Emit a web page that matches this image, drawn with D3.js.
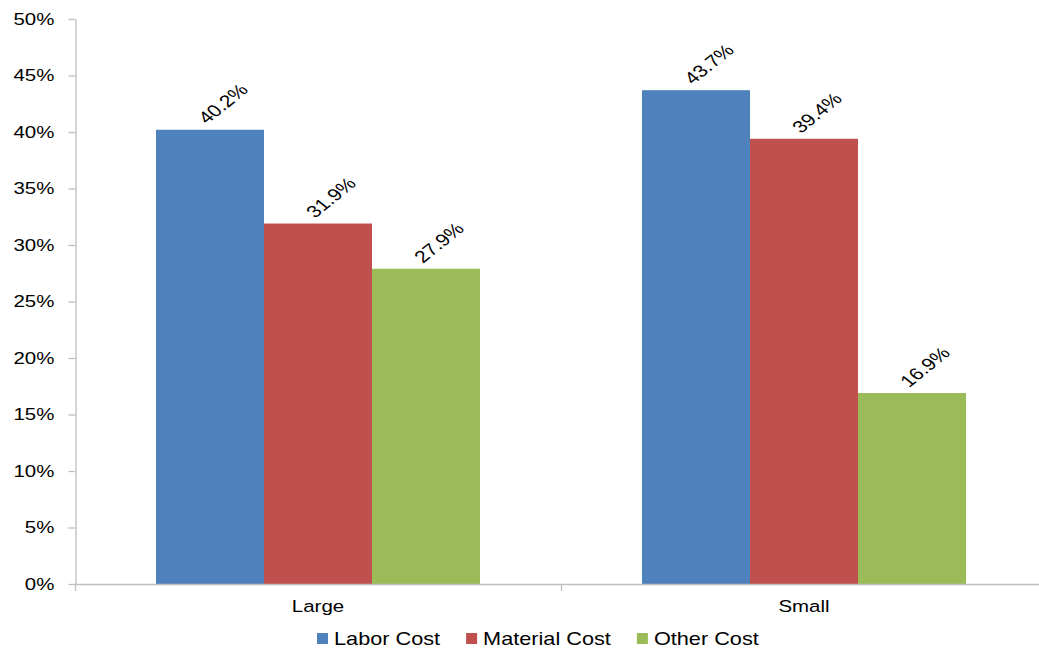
<!DOCTYPE html>
<html>
<head>
<meta charset="utf-8">
<script src="https://cdn.jsdelivr.net/npm/d3@7"></script>
<style>
  html, body { margin: 0; padding: 0; background: #fff; }
  svg { display: block; }
  text { font-family: "Liberation Sans", Arial, Helvetica, sans-serif; fill: #000; }
</style>
</head>
<body>
<svg id="chart" width="1039" height="650"></svg>
<script>
// Cost share by company size
const categories = ["Large", "Small"];
const seriesNames = ["Labor Cost", "Material Cost", "Other Cost"];
const laborCost = [0.402, 0.437];
const materialCost = [0.319, 0.394];
const otherCost = [0.279, 0.169];
const yTicks = [0, 0.05, 0.10, 0.15, 0.20, 0.25, 0.30, 0.35, 0.40, 0.45, 0.50];
const colors = ["#4F81BD", "#C0504D", "#9BBB59"];

const seriesValues = [laborCost, materialCost, otherCost];
const stretch = 1.24; // text is drawn slightly wide

const svg = d3.select("#chart");
const plot = { left: 75, right: 1047, top: 19, bottom: 584 };

const x = d3.scaleBand().domain(categories).range([plot.left, plot.right]).paddingInner(0).paddingOuter(0);
const xs = d3.scaleBand().domain(seriesNames).range([0, x.bandwidth()]).paddingInner(0).paddingOuter(0.75);
const y = d3.scaleLinear().domain([0, 0.5]).range([plot.bottom, plot.top]);

const axisColor = "#bfbfbf";

// Bars
const rows = categories.map((c, i) => seriesNames.map((s, j) => ({ cat: c, series: s, value: seriesValues[j][i], color: colors[j] })));
const groups = svg.selectAll("g.cat").data(rows).join("g")
  .attr("class", "cat")
  .attr("transform", (d, i) => `translate(${x(categories[i])},0)`);

groups.selectAll("rect").data(d => d).join("rect")
  .attr("x", d => xs(d.series))
  .attr("width", xs.bandwidth())
  .attr("y", d => y(d.value))
  .attr("height", d => y(0) - y(d.value))
  .attr("fill", d => d.color);

// Value labels, rotated
const fmt = d3.format(".1%");
groups.selectAll("text.val").data(d => d).join("text")
  .attr("class", "val")
  .attr("transform", d => `translate(${xs(d.series) + xs.bandwidth() / 2 + 13},${y(d.value) - 26}) scale(${stretch},1) rotate(-45)`)
  .attr("text-anchor", "middle")
  .attr("dominant-baseline", "central")
  .style("font-size", "17px")
  .text(d => fmt(d.value));

// Y axis
const yAxis = svg.append("g")
  .attr("transform", `translate(${plot.left + 0.5},0)`)
  .call(d3.axisLeft(y).tickValues(yTicks).tickFormat(d3.format(".0%")).tickSize(7).tickSizeOuter(0).tickPadding(10));
yAxis.select(".domain").attr("stroke", axisColor).attr("stroke-width", 1.3);
yAxis.selectAll(".tick line").attr("stroke", axisColor).attr("stroke-width", 1.3);
yAxis.selectAll(".tick text")
  .attr("fill", "#000")
  .style("font-size", "16.5px")
  .style("font-family", '"Liberation Sans", Arial, sans-serif')
  .attr("transform", `scale(${stretch},1)`);

// X axis line and boundary ticks
const boundaries = categories.map(c => x(c)).concat([x.range()[1]]);
svg.append("line")
  .attr("x1", plot.left).attr("x2", plot.right)
  .attr("y1", y(0) + 0.5).attr("y2", y(0) + 0.5)
  .attr("stroke", axisColor).attr("stroke-width", 1.3);
svg.selectAll("line.xtick").data(boundaries).join("line")
  .attr("class", "xtick")
  .attr("x1", d => d + 0.5).attr("x2", d => d + 0.5)
  .attr("y1", y(0)).attr("y2", y(0) + 7)
  .attr("stroke", axisColor).attr("stroke-width", 1.3);

// Category labels
svg.selectAll("text.cat").data(categories).join("text")
  .attr("class", "cat")
  .attr("transform", d => `translate(${x(d) + x.bandwidth() / 2},${plot.bottom + 28}) scale(${stretch},1)`)
  .attr("text-anchor", "middle")
  .style("font-size", "16.5px")
  .text(d => d);

// Legend
const legend = svg.append("g").attr("transform", "translate(317,645)");
let lx = 0;
seriesNames.forEach((s, j) => {
  const item = legend.append("g").attr("transform", `translate(${lx},0)`);
  item.append("rect").attr("x", 0).attr("y", -12).attr("width", 11).attr("height", 11).attr("fill", colors[j]);
  const t = item.append("text")
    .attr("transform", `translate(17,0) scale(${stretch},1)`)
    .style("font-size", "17.5px")
    .text(s);
  const w = t.node().getComputedTextLength() * stretch;
  lx += 17 + w + 26;
});
</script>
</body>
</html>
